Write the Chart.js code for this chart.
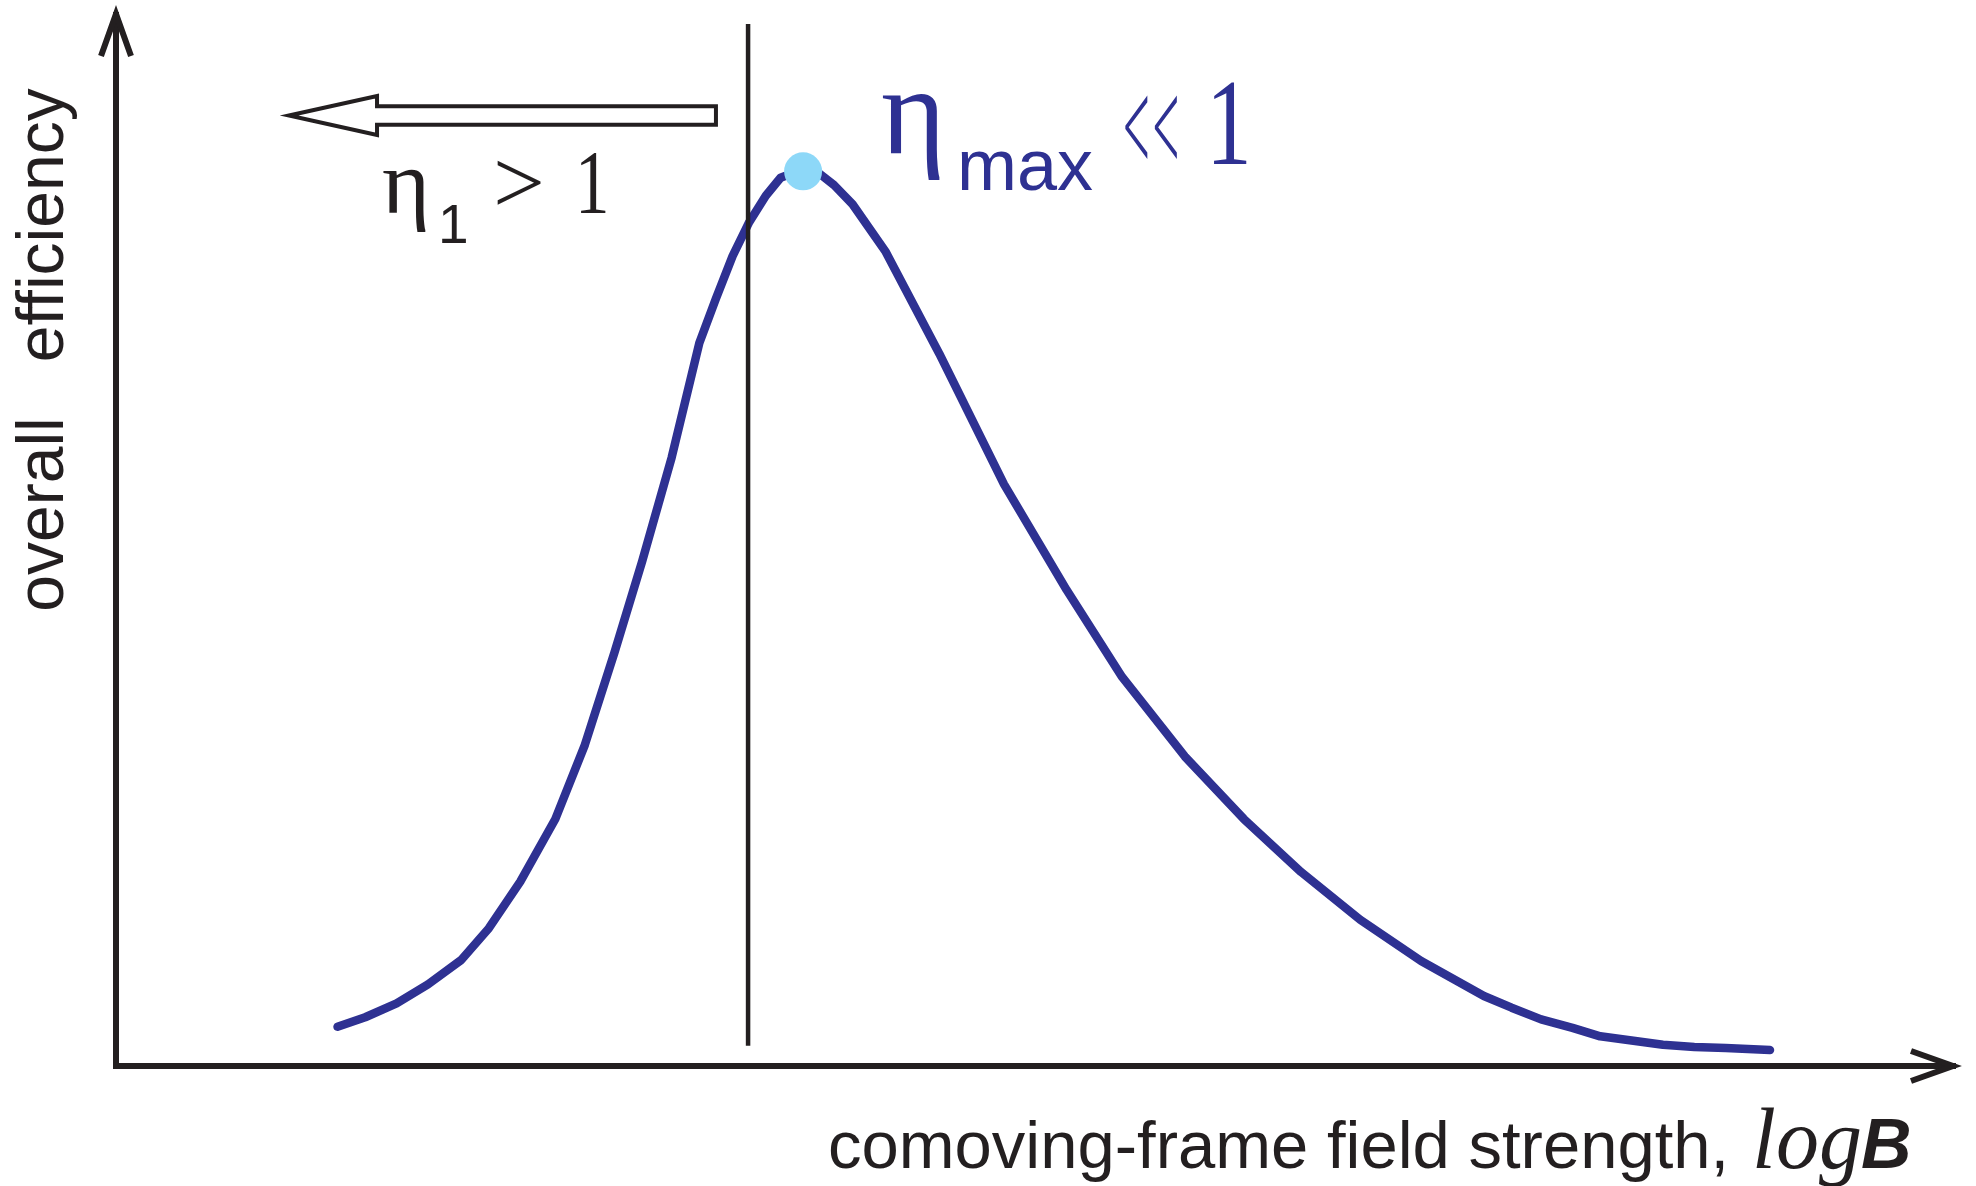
<!DOCTYPE html>
<html><head><meta charset="utf-8">
<script src="https://cdn.jsdelivr.net/npm/chart.js@4.4.1/dist/chart.umd.min.js"></script>
<style>html,body{margin:0;padding:0;background:#fff;}canvas{display:block}</style>
</head><body>
<canvas id="c" width="1976" height="1186"></canvas>
<script>
// ---- data (log B in arbitrary units, efficiency in arbitrary units) ----
const logB = [1.20, 1.35, 1.52, 1.69, 1.87, 2.02, 2.19, 2.38, 2.54, 2.70, 2.85, 3.01, 3.16, 3.25, 3.34, 3.43, 3.52, 3.60, 3.72, 3.81, 3.89, 3.99, 4.17, 4.46, 4.81, 5.15, 5.45, 5.79, 6.11, 6.42, 6.74, 7.07, 7.41, 7.56, 7.72, 7.89, 8.04, 8.21, 8.38, 8.55, 8.72, 8.96];
const efficiency = [0.037, 0.046, 0.059, 0.077, 0.100, 0.130, 0.174, 0.233, 0.303, 0.390, 0.476, 0.574, 0.682, 0.724, 0.764, 0.796, 0.821, 0.838, 0.846, 0.842, 0.831, 0.813, 0.768, 0.672, 0.549, 0.449, 0.367, 0.292, 0.233, 0.183, 0.138, 0.099, 0.066, 0.055, 0.044, 0.036, 0.028, 0.024, 0.020, 0.018, 0.017, 0.015];
const peakLogB = [3.722];
const peakEff = [0.844];
const thresholdLogB = [3.424, 3.424];
const thresholdEff = [0.019, 0.983];
// hollow arrow anchors (data units): tip, head back, tail, centre height
const arrowLogB = [0.937, 1.414, 3.250];
const arrowEff = [0.8967];
const xRange = [0, 10];
const yRange = [0, 1];
const yLabel = 'overall   efficiency';
const xLabel = 'comoving-frame field strength,';

const INK = '#231F20';
const BLUE = '#2E3192';
const LIGHT = '#8DD8F8';

const toPts = (xs, ys) => xs.map((v, i) => ({x: v, y: ys[i]}));

function squeezed(ctx, text, x, y, sx) {
  ctx.save();
  ctx.translate(x, y);
  ctx.scale(sx, 1);
  ctx.fillText(text, 0, 0);
  ctx.restore();
}

const decor = {
  id: 'decor',
  beforeDatasetsDraw(chart) {
    const {ctx, chartArea: a, scales: {x, y}} = chart;
    ctx.save();
    ctx.strokeStyle = INK;
    ctx.lineWidth = 6;
    ctx.lineCap = 'butt';
    ctx.beginPath();
    ctx.moveTo(a.left - 3, a.bottom); ctx.lineTo(a.right - 6, a.bottom);
    ctx.moveTo(a.left, a.bottom + 3); ctx.lineTo(a.left, a.top + 6);
    ctx.stroke();
    ctx.lineJoin = 'miter';
    ctx.beginPath();
    ctx.moveTo(a.left - 15, a.top + 50); ctx.lineTo(a.left, a.top + 8); ctx.lineTo(a.left + 15, a.top + 50);
    ctx.stroke();
    ctx.beginPath();
    ctx.moveTo(a.right - 51, a.bottom - 15); ctx.lineTo(a.right - 9, a.bottom); ctx.lineTo(a.right - 51, a.bottom + 15);
    ctx.stroke();
    // hollow arrow
    const tip = x.getPixelForValue(arrowLogB[0]);
    const back = x.getPixelForValue(arrowLogB[1]);
    const tail = x.getPixelForValue(arrowLogB[2]);
    const cy = y.getPixelForValue(arrowEff[0]);
    const hh = 19.5, sh = 9.3;
    ctx.lineWidth = 4;
    ctx.fillStyle = '#fff';
    ctx.beginPath();
    ctx.moveTo(tip, cy);
    ctx.lineTo(back, cy - hh);
    ctx.lineTo(back, cy - sh);
    ctx.lineTo(tail, cy - sh);
    ctx.lineTo(tail, cy + sh);
    ctx.lineTo(back, cy + sh);
    ctx.lineTo(back, cy + hh);
    ctx.closePath();
    ctx.fill();
    ctx.stroke();
    ctx.restore();
  },
  afterDraw(chart) {
    const {ctx} = chart;
    ctx.save();
    ctx.textBaseline = 'alphabetic';
    ctx.textAlign = 'left';
    // y label
    ctx.fillStyle = INK;
    ctx.save();
    ctx.translate(63, 350);
    ctx.rotate(-Math.PI / 2);
    ctx.textAlign = 'center';
    ctx.font = '66px "Liberation Sans", Arial, sans-serif';
    ctx.fillText(yLabel, 0, 0);
    ctx.restore();
    // x label
    ctx.font = '67px "Liberation Sans", Arial, sans-serif';
    ctx.fillText(xLabel, 828, 1168);
    ctx.font = 'italic 86px "Liberation Serif", "Times New Roman", serif';
    ctx.fillText('log', 1752, 1168);
    ctx.font = 'italic bold 70px "Liberation Sans", Arial, sans-serif';
    ctx.fillText('B', 1861, 1168);
    // eta_1 > 1
    ctx.font = '92px "Liberation Serif", serif';
    ctx.fillText('η', 382, 213);
    ctx.font = '55px "Liberation Sans", sans-serif';
    ctx.fillText('1', 438, 243);
    ctx.font = '92px "Liberation Serif", serif';
    ctx.fillText('>', 493, 213);
    squeezed(ctx, '1', 575, 213, 0.75);
    // eta_max << 1
    ctx.fillStyle = BLUE;
    ctx.font = '124px "Liberation Serif", serif';
    ctx.fillText('η', 881, 153);
    ctx.font = '72px "Liberation Sans", sans-serif';
    ctx.fillText('max', 957, 190);
    ctx.font = '131px "Liberation Serif", serif';
    ctx.letterSpacing = '8px';
    squeezed(ctx, '<<', 1123, 171, 0.36);
    ctx.letterSpacing = '0px';
    ctx.font = '122px "Liberation Serif", serif';
    squeezed(ctx, '1', 1206, 164, 0.75);
    ctx.restore();
  }
};

new Chart(document.getElementById('c'), {
  type: 'scatter',
  data: {
    datasets: [
      {data: toPts(peakLogB, peakEff), pointRadius: 19, pointHoverRadius: 19, pointBackgroundColor: LIGHT, pointBorderWidth: 0, showLine: false},
      {data: toPts(thresholdLogB, thresholdEff), showLine: true, borderColor: INK, borderWidth: 4.5, pointRadius: 0, borderCapStyle: 'butt'},
      {data: toPts(logB, efficiency), showLine: true, borderColor: BLUE, borderWidth: 8.5, pointRadius: 0, tension: 0, borderCapStyle: 'round', borderJoinStyle: 'round'}
    ]
  },
  options: {
    responsive: false,
    animation: false,
    devicePixelRatio: 1,
    layout: {autoPadding: false, padding: {left: 116, right: 14, top: 6, bottom: 120}},
    plugins: {legend: {display: false}, tooltip: {enabled: false}},
    events: [],
    scales: {
      x: {type: 'linear', min: xRange[0], max: xRange[1], display: false},
      y: {type: 'linear', min: yRange[0], max: yRange[1], display: false}
    }
  },
  plugins: [decor]
});
</script>
</body></html>
